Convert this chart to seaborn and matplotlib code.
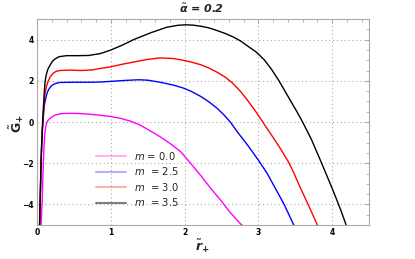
import numpy as np
import pandas as pd
import matplotlib
matplotlib.use("Agg")
import matplotlib.pyplot as plt
import seaborn as sns
from matplotlib.lines import Line2D
from matplotlib.ticker import MultipleLocator

# --- data ---
x_m00 = [0.055, 0.062, 0.07, 0.078, 0.086, 0.095, 0.105, 0.12, 0.135, 0.15, 0.175, 0.20, 0.245, 0.32, 0.40,
         0.50, 0.585, 0.70, 0.857, 0.99, 1.13, 1.27, 1.40, 1.53, 1.67, 1.81, 1.95, 2.08, 2.22, 2.35,
         2.49, 2.62, 2.76, 2.78]
y_m00 = [-5.0, -4.5, -3.8, -2.9, -2.0, -1.2, -0.6, -0.2, 0.0, 0.08, 0.17, 0.24, 0.34, 0.40, 0.42,
         0.42, 0.41, 0.38, 0.33, 0.27, 0.18, 0.04, -0.15, -0.42, -0.72, -1.06, -1.45, -2.0, -2.6, -3.2,
         -3.8, -4.4, -4.95, -5.0]

x_m25 = [0.035, 0.045, 0.055, 0.065, 0.075, 0.087, 0.10, 0.115, 0.13, 0.15, 0.175, 0.20, 0.25, 0.31, 0.50,
         0.70, 0.85, 0.99, 1.20, 1.38, 1.50, 1.67, 1.85, 1.99, 2.10, 2.22, 2.33, 2.44, 2.53, 2.62,
         2.72, 2.85, 3.01, 3.12, 3.22, 3.35, 3.48]
y_m25 = [-5.0, -3.5, -2.0, -1.0, -0.3, 0.3, 0.8, 1.1, 1.32, 1.52, 1.67, 1.77, 1.87, 1.92, 1.93,
         1.93, 1.94, 1.97, 2.02, 2.05, 2.03, 1.93, 1.79, 1.64, 1.47, 1.24, 0.98, 0.67, 0.36, 0.0,
         -0.5, -1.10, -1.90, -2.50, -3.15, -4.0, -5.0]

x_m30 = [0.035, 0.045, 0.055, 0.062, 0.07, 0.08, 0.09, 0.10, 0.11, 0.13, 0.15, 0.18, 0.22, 0.26, 0.31,
         0.45, 0.60, 0.75, 0.857, 0.99, 1.15, 1.31, 1.50, 1.67, 1.85, 1.99, 2.10, 2.22, 2.33, 2.44,
         2.55, 2.65, 2.76, 2.85, 2.955, 3.06, 3.20, 3.31, 3.41, 3.475, 3.545, 3.675, 3.80]
y_m30 = [-5.0, -3.5, -2.0, -1.2, -0.5, 0.1, 0.6, 1.05, 1.4, 1.75, 1.97, 2.2, 2.37, 2.46, 2.50,
         2.52, 2.50, 2.53, 2.60, 2.67, 2.80, 2.91, 3.04, 3.11, 3.08, 2.99, 2.90, 2.78, 2.62, 2.42,
         2.18, 1.89, 1.48, 1.07, 0.56, 0.0, -0.75, -1.35, -1.95, -2.42, -3.0, -4.0, -5.0]

x_m35 = [0.035, 0.045, 0.055, 0.062, 0.07, 0.078, 0.085, 0.093, 0.10, 0.11, 0.12, 0.135, 0.15, 0.18, 0.21,
         0.245, 0.30, 0.40, 0.55, 0.70, 0.857, 0.99, 1.15, 1.31, 1.54, 1.76, 1.90, 2.01, 2.12, 2.22,
         2.33, 2.44, 2.55, 2.67, 2.76, 2.85, 2.97, 3.08, 3.18, 3.28, 3.43, 3.52, 3.60, 3.72, 3.84,
         3.94, 4.03, 4.12, 4.19]
y_m35 = [-5.0, -3.5, -2.0, -1.2, -0.5, 0.1, 0.6, 1.1, 1.5, 1.97, 2.2, 2.42, 2.58, 2.78, 2.95,
         3.06, 3.17, 3.22, 3.22, 3.23, 3.32, 3.48, 3.72, 4.0, 4.33, 4.60, 4.69, 4.72, 4.70, 4.65,
         4.57, 4.44, 4.30, 4.11, 3.93, 3.70, 3.40, 3.02, 2.55, 2.0, 1.07, 0.52, 0.0, -0.85, -1.85,
         -2.7, -3.48, -4.3, -5.0]

m_labels = ["0.0", "2.5", "3.0", "3.5"]
legend_labels = ["$m$ = 0.0", "$m$  = 2.5", "$m$  = 3.0", "$m$  = 3.5"]
colors = ["#ff00ff", "#0000ff", "#ff0000", "#000000"]

frames = []
for lab, xs, ys in zip(m_labels, [x_m00, x_m25, x_m30, x_m35], [y_m00, y_m25, y_m30, y_m35]):
    frames.append(pd.DataFrame({"r": xs, "G": ys, "m": lab}))
df = pd.concat(frames, ignore_index=True)

sns.set_style("white")
plt.rcParams['font.family'] = ['DejaVu Sans']

fig = plt.figure(figsize=(4.15, 2.59), dpi=100)
ax = fig.add_axes([37/415, 1 - 225/259, (369 - 37)/415, (225 - 19)/259])

sns.lineplot(data=df, x="r", y="G", hue="m", palette=dict(zip(m_labels, colors)),
             estimator=None, sort=False, linewidth=1.0, legend=False, ax=ax)

ax.set_xlim(0, 4.5)
ax.set_ylim(-5, 5)
ax.xaxis.set_major_locator(MultipleLocator(1))
ax.xaxis.set_minor_locator(MultipleLocator(0.2))
ax.yaxis.set_major_locator(MultipleLocator(2))
ax.yaxis.set_minor_locator(MultipleLocator(0.5))
ax.grid(True, which="major", color="#aaaaaa", linestyle=(0, (1, 2.5)), linewidth=0.8)
ax.tick_params(which="both", direction="in", top=True, right=True, colors="#999999",
               labelcolor="black", labelsize=5.5, pad=2.5)
ax.tick_params(which="major", length=3, width=0.6)
ax.tick_params(which="minor", length=2, width=0.5)
for lbl in ax.get_xticklabels() + ax.get_yticklabels():
    lbl.set_fontweight("bold")
for s in ax.spines.values():
    s.set_color("#aaaaaa")
    s.set_linewidth(0.8)
ax.set_xlabel("")
ax.set_ylabel("")

fig.text(202/415, 1 - 8/259, r"$\tilde{\boldsymbol{\alpha}}$ = 0.2", fontsize=8,
         fontweight="bold", fontstyle="italic", ha="center", va="center")
fig.text(202/415, 1 - 246/259, r"$\tilde{\boldsymbol{r}}_{\mathbf{+}}$", fontsize=9,
         ha="center", va="center")
fig.text(17/415, 1 - 124/259, r"$\tilde{\mathbf{G}}_{\mathbf{+}}$", fontsize=9,
         ha="center", va="center", rotation=90)

handles = [Line2D([0], [0], color=c, lw=1.5, alpha=0.3 if c != "#000000" else 0.5) for c in colors]
ax.legend(handles, legend_labels, loc="upper left", bbox_to_anchor=(0.165, 0.385),
          frameon=False, fontsize=7.2, handlelength=3.0, handletextpad=0.8,
          labelspacing=0.35, borderaxespad=0)

fig.savefig("out.png", dpi=100)
